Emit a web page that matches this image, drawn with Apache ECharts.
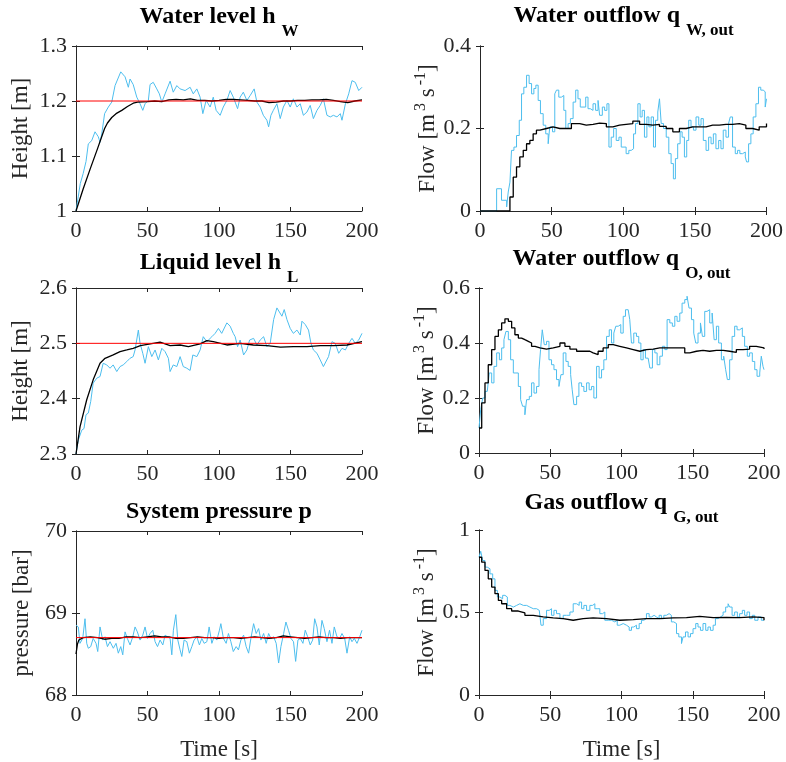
<!DOCTYPE html>
<html><head><meta charset="utf-8">
<script src="https://cdn.jsdelivr.net/npm/echarts@6/dist/echarts.min.js"></script>
<style>html,body{margin:0;padding:0;background:#fff}#c{width:786px;height:762px}</style>
</head><body><div id="c"></div><script>
// ---------------- data ----------------
const timeAxis = { min: 0, max: 200, interval: 50 };

// Panel 1: water level h_W
const hwMeasured = [[0,1.0],[3,1.05],[5,1.068],[7,1.09],[8.6,1.122],[11,1.128],[13.3,1.144],[15.6,1.135],[16.8,1.125],[18,1.14],[20,1.177],[22.6,1.189],[25,1.198],[27.3,1.228],[31.3,1.253],[34.3,1.244],[36.6,1.225],[37.8,1.24],[40,1.23],[42.5,1.207],[44.8,1.195],[46.7,1.183],[48.3,1.195],[50.6,1.201],[51.8,1.23],[54,1.234],[56.5,1.222],[58.3,1.213],[60,1.198],[62.3,1.213],[65.8,1.236],[68,1.216],[70.5,1.228],[72.8,1.222],[76.3,1.219],[79.8,1.225],[82,1.213],[84.5,1.222],[86.8,1.207],[88.7,1.177],[91,1.201],[93.8,1.189],[96,1.207],[98,1.183],[100.8,1.174],[103,1.189],[105.5,1.201],[107.8,1.219],[110,1.207],[113,1.186],[114.8,1.207],[117,1.216],[119.5,1.201],[121.8,1.21],[124.6,1.222],[126.5,1.198],[128.8,1.189],[131,1.174],[133.5,1.165],[134.7,1.153],[136.3,1.174],[138,1.183],[140.5,1.195],[142.8,1.168],[145,1.189],[147.5,1.201],[149.8,1.189],[152,1.204],[154.5,1.189],[156.8,1.195],[159,1.174],[161.5,1.18],[163.8,1.192],[166,1.168],[168.5,1.183],[170.8,1.192],[173,1.204],[175.5,1.174],[177.8,1.171],[180,1.174],[182.5,1.171],[184.8,1.177],[186,1.165],[188.4,1.195],[190.7,1.213],[193,1.237],[195.3,1.234],[197.7,1.219],[200,1.225]];
const hwEstimated = [[0,1.0],[5,1.04],[10,1.077],[15,1.113],[20,1.15],[22,1.16],[25,1.17],[28,1.177],[32,1.183],[36,1.19],[40,1.196],[43,1.198],[50,1.199],[55,1.2],[60,1.199],[65,1.202],[70,1.203],[75,1.202],[80,1.204],[85,1.201],[90,1.201],[95,1.2],[100,1.201],[105,1.203],[110,1.203],[115,1.202],[120,1.201],[125,1.2],[130,1.2],[135,1.197],[140,1.198],[145,1.2],[150,1.2],[155,1.201],[160,1.201],[165,1.202],[170,1.202],[175,1.203],[180,1.201],[185,1.199],[190,1.197],[195,1.2],[200,1.202]];
const hwSetpoint = 1.2;

// Panel 2: water outflow q_W,out
const qwMeasured = [[0,0],[11.6,0.054],[15,0.026],[18.6,0.01],[19.7,0.046],[20.9,0.07],[22,0.147],[23.7,0.155],[25.5,0.183],[27.4,0.22],[29,0.284],[30.6,0.3],[32.5,0.329],[34.3,0.309],[36,0.284],[37.6,0.297],[39,0.305],[40.6,0.268],[42.2,0.236],[44.1,0.208],[45.9,0.187],[47.6,0.163],[48.7,0.204],[50.6,0.192],[52.2,0.284],[53.4,0.293],[55,0.276],[56.8,0.28],[58.5,0.244],[59.9,0.2],[61.5,0.212],[63.1,0.224],[65,0.264],[66.8,0.293],[68.4,0.272],[70,0.252],[73.8,0.276],[75.4,0.248],[77,0.244],[78.9,0.26],[80.7,0.244],[82.4,0.268],[83.5,0.232],[85.4,0.252],[87,0.244],[88.6,0.26],[90,0.155],[91.6,0.179],[93.3,0.2],[95.1,0.171],[97,0.179],[98.6,0.155],[102,0.139],[103.9,0.147],[105.6,0.151],[107.2,0.187],[108.6,0.212],[110.2,0.26],[111.8,0.228],[113.2,0.244],[114.8,0.179],[116.5,0.228],[117.9,0.204],[119.5,0.228],[121.1,0.155],[122.5,0.22],[124.1,0.24],[125.3,0.272],[126.5,0.212],[128.1,0.2],[130,0.179],[131.8,0.139],[133.4,0.115],[135,0.078],[136.4,0.127],[138,0.163],[139.7,0.192],[141.1,0.179],[142.7,0.131],[144.3,0.171],[145.7,0.22],[147.3,0.204],[149,0.196],[150.8,0.228],[152.7,0.208],[154.3,0.224],[155.9,0.171],[157.8,0.147],[159.6,0.179],[161.3,0.163],[162.9,0.187],[164.7,0.151],[166.6,0.171],[168.2,0.151],[169.8,0.196],[171.7,0.179],[173.5,0.212],[174.7,0.228],[176.3,0.155],[178.2,0.139],[179.8,0.147],[181.4,0.139],[183.3,0.143],[185.2,0.131],[186.1,0.119],[187.5,0.163],[189.1,0.187],[190.7,0.228],[192.6,0.26],[194.4,0.3],[196,0.293],[197.7,0.289],[199.1,0.252],[200,0.272]];
const qwEstimated = [[0,0],[19,0],[20.9,0.034],[23.2,0.082],[25.5,0.107],[27.8,0.131],[30.2,0.147],[32.5,0.163],[34.8,0.171],[37.1,0.187],[39.4,0.196],[41.8,0.2],[46.4,0.204],[51,0.2],[55.7,0.2],[60.3,0.2],[63.8,0.212],[69.6,0.208],[74.2,0.21],[78.9,0.213],[83.5,0.212],[88.2,0.204],[92.8,0.208],[97.4,0.21],[102,0.212],[106.7,0.218],[111.4,0.21],[116,0.208],[120.6,0.21],[125.3,0.205],[130,0.2],[134.6,0.192],[139.2,0.2],[143.9,0.204],[148.5,0.204],[153.1,0.204],[157.8,0.208],[162.4,0.208],[167,0.21],[171.7,0.21],[176.3,0.212],[181,0.208],[185.6,0.2],[190.3,0.196],[194.9,0.204],[200,0.212]];

// Panel 3: liquid level h_L
const hlMeasured = [[0,2.3],[1.6,2.325],[4,2.343],[5.6,2.346],[7,2.371],[8.6,2.374],[10.3,2.395],[12,2.428],[14.5,2.437],[16.8,2.44],[19,2.464],[21.5,2.461],[23.8,2.455],[26,2.461],[28.5,2.449],[30.8,2.458],[33,2.461],[35.5,2.467],[37.8,2.473],[40,2.476],[41.3,2.488],[43.6,2.524],[44.8,2.5],[46.7,2.482],[48.3,2.464],[50.6,2.494],[53,2.476],[55.3,2.488],[57.6,2.47],[60,2.491],[62.3,2.485],[64.6,2.473],[65.8,2.449],[68,2.461],[70.5,2.458],[72.8,2.476],[75,2.458],[77.5,2.455],[79.8,2.451],[81.7,2.479],[84.5,2.476],[86.8,2.488],[89,2.512],[91.5,2.503],[95,2.512],[97.3,2.518],[99.6,2.527],[101.9,2.518],[105.5,2.537],[107.8,2.531],[110,2.518],[111.3,2.512],[113,2.494],[114.8,2.506],[117.2,2.479],[119.5,2.488],[121.4,2.506],[124.2,2.509],[126.5,2.497],[128.8,2.506],[131.2,2.512],[133.5,2.494],[135.8,2.5],[138.2,2.543],[140.5,2.564],[141.7,2.567],[144,2.549],[145.6,2.561],[147.5,2.543],[149.8,2.527],[152,2.518],[154.5,2.524],[156.8,2.515],[158,2.54],[160.3,2.534],[162.6,2.524],[164.3,2.5],[166,2.488],[168.5,2.482],[170.8,2.47],[173,2.458],[174.3,2.455],[176.6,2.476],[179,2.503],[181.3,2.5],[183.7,2.482],[186,2.491],[188.4,2.488],[190.7,2.5],[193,2.509],[195.3,2.5],[197.7,2.506],[200,2.518]];
const hlEstimated = [[0,2.3],[2.8,2.349],[7.5,2.398],[12,2.434],[16.8,2.464],[20.3,2.473],[26,2.479],[30.8,2.485],[35.5,2.488],[40,2.491],[45,2.496],[52,2.499],[58.8,2.502],[65.8,2.496],[72.8,2.497],[78.6,2.494],[86.8,2.499],[91.5,2.505],[96,2.503],[105.5,2.497],[114.8,2.5],[124,2.497],[133.5,2.496],[143,2.493],[152,2.494],[161.5,2.494],[170.8,2.496],[180,2.496],[189.5,2.497],[200,2.503]];
const hlSetpoint = 2.5;

// Panel 4: oil outflow q_O,out
const qoMeasured = [[0,0.091],[1.2,0.158],[2.6,0.2],[4.2,0.224],[5.8,0.23],[7.2,0.291],[8.9,0.255],[10.5,0.315],[12.4,0.364],[14.3,0.339],[15.9,0.382],[17.5,0.412],[18.9,0.442],[20.6,0.412],[22.2,0.339],[24.1,0.291],[25.9,0.291],[27.6,0.242],[29.2,0.194],[30.6,0.17],[32.2,0.139],[33.4,0.194],[35.3,0.206],[36.9,0.255],[38.6,0.218],[40.4,0.242],[42.1,0.303],[43.2,0.376],[44.4,0.448],[45.8,0.394],[47.4,0.406],[49.1,0.339],[50.9,0.321],[52.6,0.303],[54.4,0.267],[56.1,0.242],[57.5,0.285],[59.1,0.364],[61,0.333],[62.6,0.315],[64.3,0.285],[65.4,0.23],[66.6,0.176],[68.5,0.206],[70.1,0.255],[72,0.242],[73.6,0.224],[75.5,0.255],[77.3,0.23],[79,0.242],[80.6,0.2],[82.5,0.315],[84.3,0.273],[86,0.303],[87.6,0.339],[89.5,0.424],[91.4,0.448],[93,0.4],[94.6,0.436],[96,0.461],[97.7,0.467],[99.5,0.436],[101.2,0.497],[102.8,0.521],[104.7,0.515],[105.8,0.485],[107,0.4],[108.6,0.436],[110.5,0.424],[112.1,0.4],[113.6,0.339],[115.2,0.376],[116.8,0.345],[118.7,0.352],[119.9,0.309],[121.7,0.376],[123.4,0.364],[125,0.321],[126.9,0.352],[128.7,0.388],[130.4,0.376],[132,0.485],[133.9,0.473],[135.7,0.461],[137.4,0.497],[139,0.479],[140.9,0.509],[142.5,0.545],[144.4,0.558],[146,0.57],[147.4,0.527],[149.1,0.485],[150.7,0.436],[152.1,0.4],[153.7,0.436],[155.4,0.473],[156.8,0.424],[158.4,0.515],[160,0.521],[161.9,0.473],[163.6,0.509],[165,0.412],[166.6,0.461],[168.2,0.4],[170.1,0.339],[171.7,0.352],[173.1,0.303],[174.3,0.267],[175.9,0.339],[177.6,0.424],[179.4,0.461],[181.1,0.448],[182.9,0.455],[184.8,0.424],[186.4,0.388],[188.3,0.352],[189.9,0.364],[191.8,0.333],[193.5,0.303],[195.1,0.279],[197,0.291],[198.1,0.352],[199.3,0.315],[200,0.303]];
const qoEstimated = [[0,0.091],[1.9,0.182],[4.2,0.255],[6.5,0.321],[8.9,0.376],[11.2,0.424],[13.6,0.448],[15.9,0.473],[18.2,0.488],[20.6,0.479],[22.9,0.455],[25.2,0.43],[27.6,0.418],[29.9,0.412],[32.2,0.406],[34.6,0.4],[36.9,0.388],[39.3,0.382],[42.8,0.378],[47.4,0.382],[52.1,0.388],[56.8,0.4],[60.3,0.388],[63.8,0.378],[68.5,0.37],[73.1,0.37],[77.8,0.364],[80.1,0.358],[83.6,0.37],[87.1,0.382],[90.7,0.394],[94.2,0.388],[98.8,0.382],[103.5,0.376],[108.2,0.37],[112.9,0.376],[117.5,0.378],[122.2,0.382],[126.9,0.382],[131.5,0.382],[136.2,0.382],[140.9,0.382],[144.4,0.364],[147.9,0.37],[152.6,0.373],[157.2,0.37],[161.9,0.373],[166.6,0.373],[171.3,0.37],[175.9,0.366],[180.6,0.376],[185.3,0.378],[189.9,0.388],[194.6,0.382],[200,0.378]];

// Panel 5: system pressure p
const pMeasured = [[0,68.85],[1.6,68.83],[2.8,68.63],[4.7,68.69],[6.3,68.93],[7.5,68.63],[8.6,68.57],[10.3,68.59],[12,68.69],[14,68.63],[15.2,68.53],[16.8,68.83],[18.7,68.67],[20.3,68.71],[22,68.59],[23.8,68.65],[26.1,68.57],[28,68.63],[29.6,68.51],[31.3,68.59],[32.7,68.49],[34.3,68.77],[35.9,68.69],[37.8,68.61],[39.7,68.71],[41.3,68.83],[42.9,68.77],[44.8,68.67],[46.7,68.73],[48.3,68.83],[50,68.69],[51.8,68.75],[53.7,68.79],[55.3,68.65],[57,68.59],[58.8,68.67],[60.7,68.61],[62.3,68.73],[63.9,68.71],[65.8,68.69],[67,68.49],[68.1,68.79],[69.8,68.98],[71.2,68.67],[72.8,68.55],[74,68.47],[75.6,68.67],[77.5,68.65],[79.3,68.51],[81,68.59],[82.6,68.67],[84.5,68.71],[86.3,68.61],[88,68.69],[89.6,68.63],[91.5,68.65],[93.1,68.83],[95,68.63],[96.6,68.71],[98.5,68.67],[100.3,68.79],[101.3,68.87],[103.1,68.69],[105,68.63],[106.6,68.75],[108.3,68.65],[110,68.53],[112,68.59],[113.6,68.55],[115.3,68.67],[117.2,68.73],[119,68.59],[120.7,68.51],[122.3,68.69],[124.2,68.87],[126,68.75],[127.7,68.81],[129.3,68.67],[131.2,68.75],[133,68.63],[134.7,68.75],[136.3,68.69],[138.2,68.71],[140,68.63],[141.7,68.39],[143.3,68.59],[145.2,68.75],[146.8,68.89],[148.6,68.79],[150.3,68.69],[152.1,68.65],[153.6,68.41],[155.2,68.67],[156.8,68.69],[158.7,68.63],[160.3,68.79],[162,68.71],[163.8,68.61],[165.5,68.67],[166.9,68.93],[168.5,68.83],[170.1,68.61],[172,68.91],[173.6,68.81],[175.5,68.65],[177.3,68.79],[179,68.63],[180.6,68.83],[182.5,68.71],[184.4,68.69],[186,68.75],[187.9,68.69],[189.5,68.51],[191.4,68.71],[193,68.65],[194.6,68.69],[196.5,68.63],[198.4,68.71],[200,68.79]];
const pEstimated = [[0,68.5],[1,68.62],[2,68.67],[3,68.69],[5,68.7],[10,68.71],[15,68.7],[20,68.68],[25,68.69],[30,68.69],[35,68.71],[40,68.71],[45,68.7],[50,68.71],[55,68.72],[60,68.71],[65,68.71],[70,68.69],[75,68.69],[80,68.7],[85,68.71],[90,68.7],[95,68.7],[100,68.69],[105,68.7],[110,68.7],[115,68.69],[120,68.7],[125,68.71],[130,68.7],[135,68.69],[140,68.7],[145,68.72],[150,68.71],[155,68.7],[160,68.69],[165,68.7],[170,68.71],[175,68.7],[180,68.7],[185,68.69],[190,68.7],[195,68.7],[200,68.7]];
const pSetpoint = 68.7;

// Panel 6: gas outflow q_G,out
const qgMeasured = [[0,0.835],[1.2,0.871],[2.6,0.815],[4.2,0.775],[5.8,0.765],[7.7,0.734],[9.6,0.704],[11.2,0.634],[12.9,0.594],[14.7,0.583],[16.6,0.604],[18.2,0.594],[19.9,0.543],[21.7,0.533],[24.1,0.543],[26.4,0.553],[28.7,0.543],[31.1,0.543],[33.4,0.533],[35.7,0.523],[38.1,0.523],[40.4,0.513],[42.3,0.503],[43.5,0.423],[45.1,0.463],[47.4,0.513],[49.3,0.523],[50.9,0.483],[52.6,0.513],[54.4,0.493],[56.8,0.463],[59.1,0.483],[61.4,0.483],[63.8,0.503],[66.1,0.553],[68.5,0.543],[70.3,0.563],[72,0.523],[73.6,0.543],[75.5,0.513],[77.8,0.543],[79.7,0.553],[81.3,0.523],[82.9,0.523],[84.8,0.493],[86.7,0.503],[88.3,0.453],[90.7,0.453],[93,0.443],[95.3,0.453],[97,0.423],[98.8,0.433],[101.2,0.423],[103.5,0.412],[105.4,0.392],[107,0.412],[108.6,0.423],[110.5,0.402],[112.4,0.433],[114,0.453],[115.7,0.463],[117.5,0.493],[119.4,0.473],[121,0.483],[122.9,0.473],[124.5,0.463],[126.4,0.483],[128,0.463],[129.7,0.483],[131.5,0.493],[133.4,0.483],[135,0.443],[136.7,0.433],[138.6,0.372],[140.2,0.352],[142.1,0.312],[143.2,0.352],[144.9,0.382],[146.7,0.352],[148.4,0.372],[150.2,0.402],[152.1,0.433],[153.7,0.412],[155.4,0.392],[157.2,0.433],[159.1,0.392],[160.7,0.412],[162.4,0.392],[164.3,0.423],[165.9,0.463],[167.8,0.473],[169.4,0.483],[171.3,0.503],[173.1,0.533],[174.8,0.553],[175.9,0.533],[177.6,0.483],[179.4,0.503],[181.3,0.473],[182.9,0.493],[184.8,0.513],[186.4,0.483],[188.1,0.503],[189.9,0.463],[191.8,0.483],[193.5,0.453],[195.8,0.473],[198.1,0.453],[200,0.453]];
const qgEstimated = [[0,0.835],[1.9,0.805],[4.2,0.755],[6.5,0.704],[8.9,0.654],[11.2,0.614],[13.6,0.573],[15.9,0.553],[19.4,0.523],[22.9,0.509],[27.6,0.497],[32.2,0.483],[38.1,0.473],[45.1,0.467],[52.1,0.463],[59.1,0.453],[66.1,0.463],[73.1,0.467],[80.1,0.463],[89.5,0.453],[98.8,0.457],[108.2,0.463],[117.5,0.463],[126.9,0.467],[136.2,0.469],[145.6,0.477],[154.9,0.469],[164.3,0.471],[173.6,0.469],[182.9,0.473],[192.3,0.469],[200,0.453]];

// y-axis tick definitions per panel
const yTicks = [
  { min: 1,  max: 1.3, interval: 0.1 },
  { min: 0,  max: 0.4, interval: 0.2 },
  { min: 2.3, max: 2.6, interval: 0.1 },
  { min: 0,  max: 0.6, interval: 0.2 },
  { min: 68, max: 70, interval: 1 },
  { min: 0,  max: 1,  interval: 0.5 }
];

// ---------------- layout & style ----------------
const FONT = 'Liberation Serif';
const AX = '#262626';
const BLUE = '#4DBEEE';
const grids = [
  { left: 76,  top: 46,  width: 286, height: 165 },
  { left: 480, top: 46,  width: 287, height: 165 },
  { left: 76,  top: 288, width: 286, height: 166 },
  { left: 479, top: 288, width: 285, height: 165 },
  { left: 76,  top: 531, width: 286, height: 164 },
  { left: 479, top: 530, width: 285, height: 165 }
];
const titleTops = [5, 4, 251, 247, 500, 491];
const titleTexts = [
  ['Water level h', 'W'],
  ['Water outflow q', 'W, out'],
  ['Liquid level h', 'L'],
  ['Water outflow q', 'O, out'],
  ['System pressure p', null],
  ['Gas outflow q', 'G, out']
];
const flowName = '{b|Flow [m}{s|3}{b| s}{s|-1}{b|]}';
const yNames = ['{b|Height [m]}', flowName, '{b|Height [m]}', flowName, '{b|pressure [bar]}', flowName];
const yNameGaps = [44, 33, 44, 33, 43, 33];

const nameRich = {
  b: { fontFamily: FONT, fontSize: 23, color: AX, verticalAlign: 'bottom' },
  s: { fontFamily: FONT, fontSize: 16, color: AX, verticalAlign: 'bottom', padding: [0, 0, 11, 3] }
};
const titleRich = {
  m: { fontFamily: FONT, fontSize: 24, fontWeight: 'bold', color: '#000', verticalAlign: 'top' },
  s: { fontFamily: FONT, fontSize: 17, fontWeight: 'bold', color: '#000', verticalAlign: 'top', padding: [18, 0, 0, 6] }
};

const title = titleTexts.map((t, i) => ({
  text: t[1] ? '{m|' + t[0] + '}{s|' + t[1] + '}' : '{m|' + t[0] + '}',
  left: grids[i].left + grids[i].width / 2,
  top: titleTops[i],
  textAlign: 'center',
  padding: 0,
  textStyle: { rich: titleRich }
}));

const xAxis = [], yAxis = [], series = [];
grids.forEach((g, i) => {
  const bottomRow = i >= 4;
  const common = { axisLine: { show: true, lineStyle: { color: AX, width: 1 } },
    axisTick: { show: true, inside: true, length: 4, lineStyle: { color: AX } },
    splitLine: { show: false } };
  xAxis.push(Object.assign({ type: 'value', gridIndex: i, position: 'bottom',
    min: timeAxis.min, max: timeAxis.max, interval: timeAxis.interval,
    axisLabel: { show: true, fontFamily: FONT, fontSize: 22, color: AX, margin: 9 },
    name: bottomRow ? 'Time [s]' : '', nameLocation: 'middle', nameGap: 43,
    nameTextStyle: { fontFamily: FONT, fontSize: 23, color: AX } }, common));
  xAxis.push(Object.assign({ type: 'value', gridIndex: i, position: 'top',
    min: timeAxis.min, max: timeAxis.max, interval: timeAxis.interval,
    axisLabel: { show: false } }, common));
  const yt = yTicks[i];
  yAxis.push(Object.assign({ type: 'value', gridIndex: i, position: 'left',
    min: yt.min, max: yt.max, interval: yt.interval,
    axisLabel: { show: true, fontFamily: FONT, fontSize: 22, color: AX, margin: 9 },
    name: yNames[i], nameLocation: 'middle', nameGap: yNameGaps[i], nameRotate: 90,
    nameTextStyle: { fontFamily: FONT, fontSize: 23, color: AX, rich: nameRich } }, common));
  yAxis.push(Object.assign({ type: 'value', gridIndex: i, position: 'right',
    min: yt.min, max: yt.max, interval: yt.interval,
    axisLabel: { show: false } }, common));
});

const panels = [
  { meas: hwMeasured, est: hwEstimated, sp: hwSetpoint, step: false },
  { meas: qwMeasured, est: qwEstimated, sp: null, step: true },
  { meas: hlMeasured, est: hlEstimated, sp: hlSetpoint, step: false },
  { meas: qoMeasured, est: qoEstimated, sp: null, step: true },
  { meas: pMeasured, est: pEstimated, sp: pSetpoint, step: false },
  { meas: qgMeasured, est: qgEstimated, sp: null, step: true }
];
panels.forEach((p, i) => {
  const base = { type: 'line', xAxisIndex: 2 * i, yAxisIndex: 2 * i, showSymbol: false, symbol: 'none',
    silent: true, animation: false };
  series.push(Object.assign({}, base, { data: p.meas, step: p.step ? 'end' : false,
    lineStyle: { color: BLUE, width: 1 } }));
  series.push(Object.assign({}, base, { data: p.est, step: p.step ? 'end' : false,
    lineStyle: { color: '#000', width: 1.3 } }));
  if (p.sp !== null) {
    series.push(Object.assign({}, base, { data: [[timeAxis.min, p.sp], [timeAxis.max, p.sp]],
      lineStyle: { color: '#FF0000', width: 1 } }));
  }
});

const chart = echarts.init(document.getElementById('c'), null, { renderer: 'canvas' });
chart.setOption({
  backgroundColor: '#fff',
  animation: false,
  title, grid: grids, xAxis, yAxis, series
});
</script></body></html>
